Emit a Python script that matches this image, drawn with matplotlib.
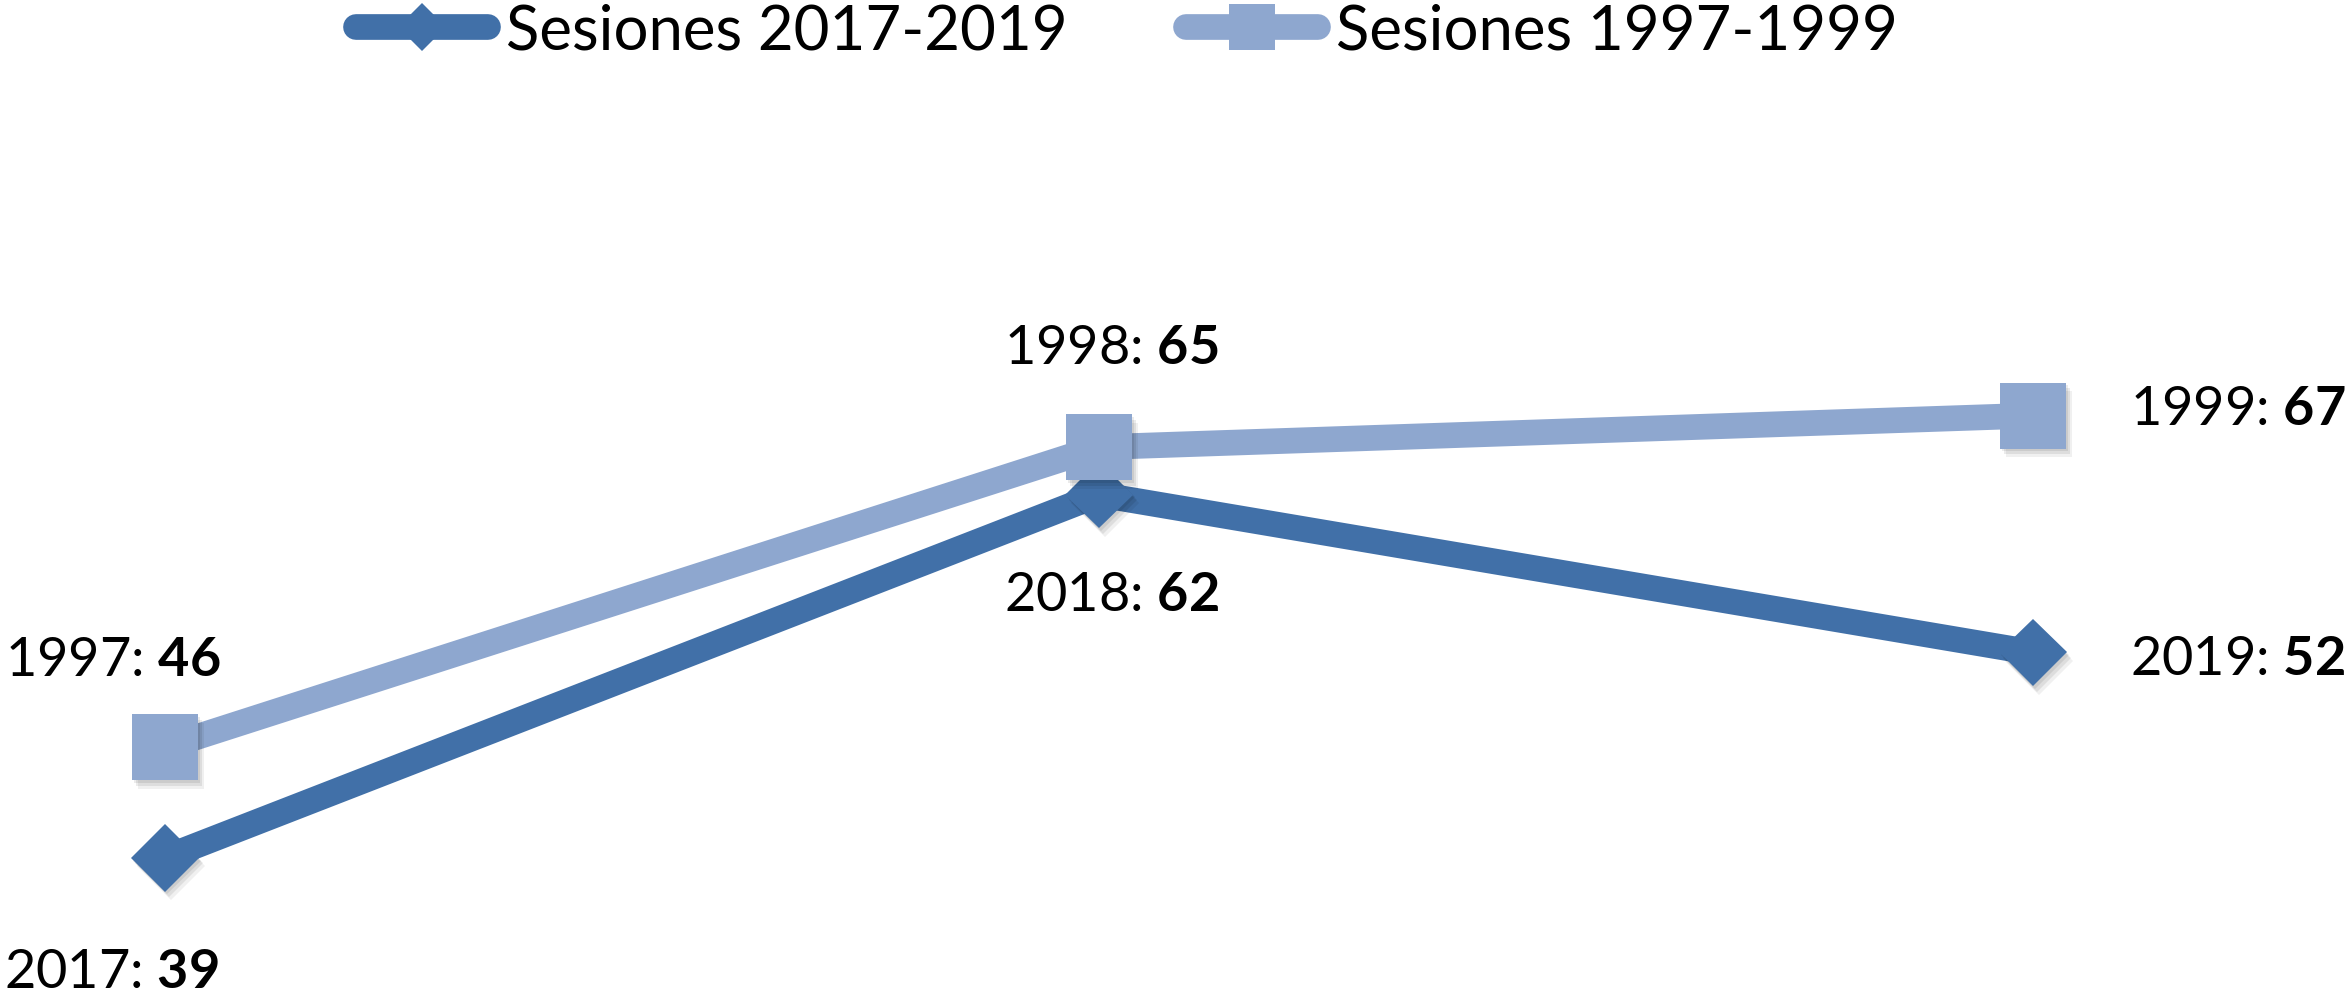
import matplotlib
matplotlib.use('Agg')
import matplotlib.pyplot as plt
from matplotlib.lines import Line2D
import matplotlib.patheffects as pe

# ---- data ----
positions = [0, 1, 2]
years_recent = ['2017', '2018', '2019']
values_recent = [39, 62, 52]
years_old = ['1997', '1998', '1999']
values_old = [46, 65, 67]
series_names = ['Sesiones 2017-2019', 'Sesiones 1997-1999']

DARK = '#4170A8'
LIGHT = '#8EA7CF'
FONT = 'Lato'
FS = 39

plt.rcParams['font.family'] = [FONT, 'DejaVu Sans']
plt.rcParams['mathtext.fontset'] = 'custom'
plt.rcParams['mathtext.rm'] = FONT
plt.rcParams['mathtext.bf'] = FONT + ':bold'

fig = plt.figure(figsize=(23.5, 9.94), dpi=100)
ax = fig.add_axes([0, 0, 1, 1])
ax.set_xlim(-0.1767, 2.3394)
ax.set_ylim(30.37, 93.32)
ax.axis('off')

shadow = [pe.SimplePatchShadow(offset=(1.5, -2), shadow_rgbFace='black', alpha=0.08),
          pe.SimplePatchShadow(offset=(3, -4), shadow_rgbFace='black', alpha=0.08),
          pe.SimplePatchShadow(offset=(4.5, -6), shadow_rgbFace='black', alpha=0.06),
          pe.Normal()]

LW = 18.5
# dark series
ax.plot(positions, values_recent, color=DARK, lw=LW, solid_capstyle='butt', zorder=2)
ax.plot(positions, values_recent, ls='none', marker='D', markersize=34.5, color=DARK,
        markeredgewidth=0, zorder=3, path_effects=shadow)
# light series
ax.plot(positions, values_old, color=LIGHT, lw=LW, solid_capstyle='butt', zorder=4)
ax.plot(positions, values_old, ls='none', marker='s', markersize=47.5, color=LIGHT,
        markeredgewidth=0, zorder=5, path_effects=shadow)

# ---- labels ----
offsets_recent = [(-161, -130), (-95, -116), (97, -23)]
offsets_old = [(-160, 71), (-95, 83), (97, -9)]

for x, yr, v, off in zip(positions, years_recent, values_recent, offsets_recent):
    ax.annotate(f'{yr}: ' + r'$\mathbf{' + str(v) + '}$', xy=(x, v), xytext=off,
                textcoords='offset pixels', ha='left', va='baseline', fontsize=FS, zorder=6)
for x, yr, v, off in zip(positions, years_old, values_old, offsets_old):
    ax.annotate(f'{yr}: ' + r'$\mathbf{' + str(v) + '}$', xy=(x, v), xytext=off,
                textcoords='offset pixels', ha='left', va='baseline', fontsize=FS, zorder=6)

# ---- legend ----
LFS = 44.5
lfs_px = LFS * 100 / 72
handles = [
    Line2D([], [], color=DARK, lw=18.5, solid_capstyle='round', marker='D', markersize=24,
           markeredgewidth=0),
    Line2D([], [], color=LIGHT, lw=18.5, solid_capstyle='round', marker='s', markersize=33,
           markeredgewidth=0),
]
leg = ax.legend(handles, series_names, loc='upper left', ncol=2, frameon=False,
                fontsize=LFS, bbox_to_anchor=(356 / 2350, 1 - 3 / 994),
                bbox_transform=fig.transFigure, borderpad=0, borderaxespad=0,
                handlelength=132 / lfs_px, handletextpad=18 / lfs_px,
                columnspacing=118 / lfs_px, numpoints=1)

fig.savefig('out.png', dpi=100)
